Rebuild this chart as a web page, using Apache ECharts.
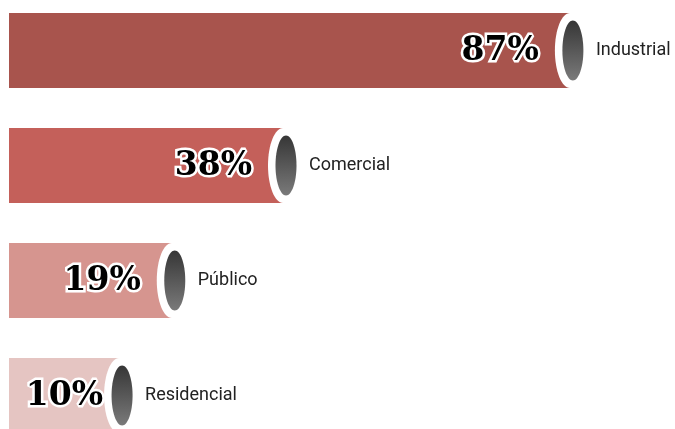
<!DOCTYPE html>
<html>
<head>
<meta charset="utf-8">
<script src="https://cdn.jsdelivr.net/npm/echarts@6/dist/echarts.min.js"></script>
<style>
    html, body { margin: 0; padding: 0; background: #fff; }
    #chart { width: 675px; height: 429px; }
</style>
</head>
<body>
<div id="chart"></div>
<script>
// 数据
var categories = ['Industrial', 'Comercial', 'Público', 'Residencial']
var values = [87, 38, 19, 10]
var barColors = ['#a8544d', '#c4605a', '#d6958f', '#e5c5c2']

var xMin = -8.8
var xMax = 100

var myChart = echarts.init(document.getElementById('chart'))

// 每根柱子: 矩形 + 白色椭圆 + 深色椭圆 + 文字
function renderBar(params, api) {
    var idx = api.value(1)
    var val = api.value(0)
    var end = api.coord([val, idx])
    var start = api.coord([xMin, idx])
    var band = api.size([0, 1])[1]
    var h = band * 0.652
    var cy = end[1]
    var endX = end[0]
    // 百分比文字不能超出柱子左侧
    var textRight = Math.max(endX - 31, start[0] + 94)
    return {
        type: 'group',
        children: [
            {
                type: 'rect',
                shape: { x: start[0], y: cy - h / 2, width: endX - start[0], height: h },
                style: { fill: barColors[idx] }
            },
            {
                type: 'ellipse',
                shape: { cx: endX, cy: cy, rx: 15, ry: h / 2 },
                style: { fill: '#fff' }
            },
            {
                type: 'ellipse',
                shape: { cx: endX + 3, cy: cy, rx: 10.5, ry: h * 0.4 },
                style: {
                    fill: new echarts.graphic.LinearGradient(0, 0, 0, 1, [
                        { offset: 0, color: '#363636' },
                        { offset: 1, color: '#7a7a7a' }
                    ])
                }
            },
            {
                type: 'text',
                style: {
                    text: val + '%',
                    x: textRight,
                    y: cy + 1,
                    align: 'right',
                    verticalAlign: 'middle',
                    font: 'bold 33px "DejaVu Serif"',
                    fill: '#000',
                    stroke: '#fff',
                    lineWidth: 5,
                    strokeFirst: true
                }
            },
            {
                type: 'text',
                style: {
                    text: categories[idx],
                    x: endX + 26,
                    y: cy,
                    align: 'left',
                    verticalAlign: 'middle',
                    font: '18px Roboto, sans-serif',
                    fill: '#222'
                }
            }
        ]
    }
}

var option = {
    animation: false,
    grid: { left: 9, width: 637, top: -7, height: 460, outerBoundsMode: 'none', containLabel: false },
    xAxis: {
        type: 'value',
        min: xMin,
        max: xMax,
        show: false
    },
    yAxis: {
        type: 'category',
        data: categories,
        inverse: true,
        show: false
    },
    series: [
        {
            type: 'custom',
            renderItem: renderBar,
            clip: false,
            data: values.map(function (v, i) { return [v, i] })
        }
    ]
}
myChart.setOption(option)
</script>
</body>
</html>
